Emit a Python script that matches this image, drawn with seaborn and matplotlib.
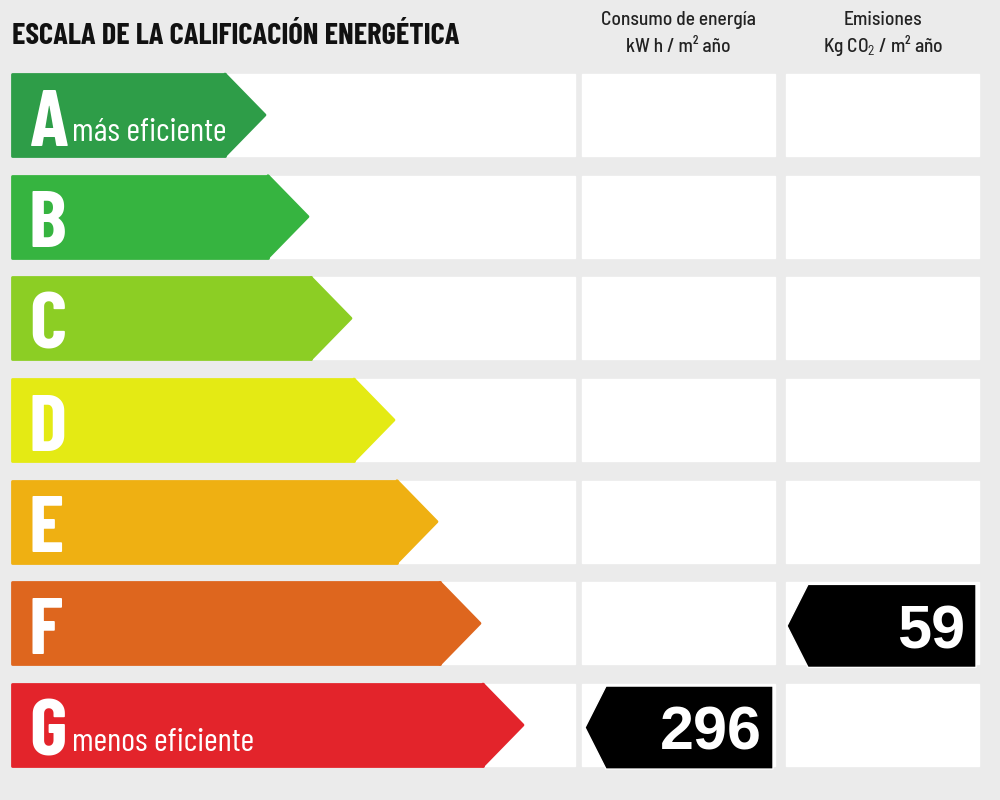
import matplotlib
matplotlib.use("Agg")
import matplotlib.pyplot as plt
from matplotlib.patches import Polygon
import seaborn as sns

# energy rating scale
letters = ["A", "B", "C", "D", "E", "F", "G"]
colors = ["#2e9d48", "#36b440", "#8cce24", "#e4ea14", "#efb012", "#de661e", "#e3242b"]
sublabels = {"A": "más eficiente", "G": "menos eficiente"}

title = "ESCALA DE LA CALIFICACIÓN ENERGÉTICA"
col_energy = ["Consumo de energía", "kW h / m² año"]
col_emis = ["Emisiones", r"Kg CO$_2$ / m² año"]

# the property's rating in each column
energy_class, energy_value = "G", 296
emis_class, emis_value = "F", 59

sns.set_theme(style="white")
narrow = ["Barlow Condensed", "DejaVu Sans"]
semi = ["Barlow Semi Condensed", "DejaVu Sans"]
plt.rcParams["font.family"] = narrow
plt.rcParams["mathtext.fontset"] = "custom"
plt.rcParams["mathtext.rm"] = "Barlow Semi Condensed"

fig = plt.figure(figsize=(10, 8), dpi=100)
fig.patch.set_facecolor("#ebebeb")
ax = fig.add_axes([0, 0, 1, 1])
ax.set_facecolor("#ebebeb")

X0 = 12          # left edge of the bars in pixels
PITCH = 101.67   # row pitch in pixels
H = 82 / PITCH   # bar height in category units
TIP = 40         # arrow tip length in pixels

body = [213 + 43 * i for i in range(len(letters))]

# white row panels
for i in range(len(letters)):
    ax.barh(i, 575 - X0, left=0, height=H, color="white", zorder=0)
    ax.barh(i, 193, left=582 - X0, height=H, color="white", zorder=0)
    ax.barh(i, 193, left=786 - X0, height=H, color="white", zorder=0)

sns.barplot(x=body, y=letters, hue=letters, palette=colors, legend=False,
            orient="h", width=H, ax=ax, zorder=2, linewidth=2, saturation=1)
for bar, c in zip(ax.patches[-len(letters):], colors):
    bar.set_edgecolor(c)
    bar.set_joinstyle("round")

for i, (b, c) in enumerate(zip(body, colors)):
    tri = Polygon([(b, i - H / 2), (b + TIP, i), (b, i + H / 2)], closed=True,
                  facecolor=c, edgecolor=c, linewidth=2, joinstyle="round", zorder=2)
    ax.add_patch(tri)
    ax.text(29 - X0, i + 0.30, letters[i], color="white", fontsize=58,
            fontweight="bold", family=narrow, ha="left", va="baseline", zorder=3)
    if letters[i] in sublabels:
        ax.text(72 - X0, i + 0.26, sublabels[letters[i]], color="white",
                fontsize=24, fontweight="normal", family=narrow,
                ha="left", va="baseline", zorder=3)


def value_arrow(row, left, right, value):
    i = letters.index(row)
    y0, y1 = i - H / 2 + 0.02, i + H / 2 + 0.03
    tip = left - X0
    start = tip + 21
    end = right - X0
    ax.add_patch(Polygon([(tip, (y0 + y1) / 2), (start, y0), (end, y0), (end, y1),
                          (start, y1)], closed=True, facecolor="black", zorder=4))
    ax.text(end - 11, y1 - 0.19, str(value), color="white", fontsize=44,
            fontweight="bold", family=["Liberation Sans", "DejaVu Sans"],
            ha="right", va="baseline", zorder=5)


value_arrow(energy_class, 585, 773, energy_value)
value_arrow(emis_class, 787, 976, emis_value)


# header texts (y in category units from pixel rows)
def ypx(p):
    return (p - 115) / PITCH


ax.text(12 - X0, ypx(44), title, fontsize=22, fontweight="bold", color="#111111",
        ha="left", va="baseline", family=narrow)
for cx, lines in [(678, col_energy), (883, col_emis)]:
    ax.text(cx - X0, ypx(25), lines[0], fontsize=14, fontweight="medium",
            color="#222222", ha="center", va="baseline", family=semi)
    ax.text(cx - X0, ypx(52), lines[1], fontsize=14, fontweight="medium",
            color="#222222", ha="center", va="baseline", family=semi)

ax.set_xlim(-X0, 1000 - X0)
ax.set_ylim(ypx(800), ypx(0))
ax.axis("off")

fig.savefig("out.png", dpi=100, facecolor=fig.get_facecolor())
